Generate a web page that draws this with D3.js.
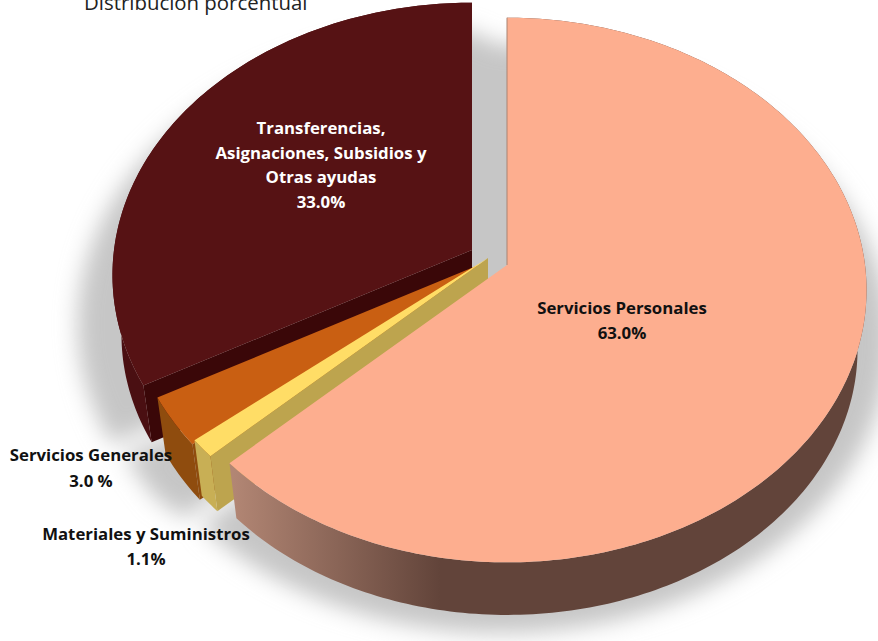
<!DOCTYPE html>
<html>
<head>
<meta charset="utf-8">
<script src="https://cdnjs.cloudflare.com/ajax/libs/d3/7.8.5/d3.min.js"></script>
<style>
  html, body { margin: 0; padding: 0; background: #fff; overflow: hidden; }
  text { font-family: "Open Sans", sans-serif; }
  .lbl { font-size: 16.8px; font-weight: 700; text-anchor: middle; fill: #111; }
  .lbl.white { fill: #fff; }
</style>
</head>
<body>
<script>
// clockwise from 12 o'clock, same order as the original pie
var categories = ["Servicios Personales", "Materiales y Suministros", "Servicios Generales", "Transferencias, Asignaciones, Subsidios y Otras ayudas"]
var shares     = [63.0, 1.1, 3.0, 33.0]
var shareText  = ["63.0%", "1.1%", "3.0 %", "33.0%"]
var title      = "Distribución porcentual"

var width = 878, height = 641

// tilted disc: radii and perspective strength, depth of the extrusion
var rx = 358, ry = 270, persp = 0.092
var depthScale = 0.975, depthDrop = 60
var shadowScale = 1.08, shadowDrop = 47

// where the apex of each slice ended up after exploding
var apexes = [[507, 265], [488, 258], [486, 262], [472, 250]]

var topColor  = ["#fdae8f", "#ffdd66", "#c95f12", "#561214"]
var rimColor  = ["url(#rimBig)", "#c8af55", "#8f4c0e", "#4a0f12"]
var faceColor = ["#a98372", "#bda44e", "#8f4c0e", "#3a0708"]

var svg = d3.select("body").append("svg")
  .attr("width", width)
  .attr("height", height)

var defs = svg.append("defs")
defs.append("filter").attr("id", "blur")
  .attr("x", "-20%").attr("y", "-20%").attr("width", "140%").attr("height", "140%")
  .append("feGaussianBlur").attr("stdDeviation", 11)

var grad = defs.append("linearGradient")
  .attr("id", "rimBig")
  .attr("gradientUnits", "userSpaceOnUse")
  .attr("x1", 233).attr("x2", 440).attr("y1", 0).attr("y2", 0)
grad.append("stop").attr("offset", 0).attr("stop-color", "#b28674")
grad.append("stop").attr("offset", 1).attr("stop-color", "#62443a")

var arcs = d3.pie().sort(null)(shares)

// disc point at angle a (clockwise from top) and radius r, on a plane scaled by s and dropped by drop
function project(i, a, r, s, drop) {
  var u = Math.sin(a) * r, v = -Math.cos(a) * r
  var w = 1 - persp * v
  return [apexes[i][0] + s * rx * u / w, apexes[i][1] + s * ry * v / w + drop]
}

var line = d3.line()

function arcPoints(i, s, drop) {
  var d = arcs[i], n = Math.max(4, Math.ceil((d.endAngle - d.startAngle) * 60))
  return d3.range(n + 1).map(k => project(i, d.startAngle + (d.endAngle - d.startAngle) * k / n, 1, s, drop))
}

function wedge(i, s, drop) {
  return line([project(i, 0, 0, s, drop)].concat(arcPoints(i, s, drop))) + "Z"
}

function rim(i) {
  return line(arcPoints(i, 1, 0).concat(arcPoints(i, depthScale, depthDrop).reverse())) + "Z"
}

// radial cut face at angle a
function cut(i, a) {
  return line([
    project(i, a, 0, 1, 0),
    project(i, a, 1, 1, 0),
    project(i, a, 1, depthScale, depthDrop),
    project(i, a, 0, depthScale, depthDrop)
  ]) + "Z"
}

svg.append("text")
  .attr("x", 84).attr("y", 10)
  .style("font-size", "20.4px")
  .attr("fill", "#222")
  .text(title)

// soft shadow under everything, the gap between the big slices is shaded too
var shadow = svg.append("g")
  .attr("filter", "url(#blur)")
  .attr("transform", "translate(-6,0)")
arcs.forEach((d, i) => {
  shadow.append("path").attr("d", wedge(i, shadowScale, shadowDrop)).attr("fill", "#c6c6c6")
})
shadow.append("path")
  .attr("d", line([
    project(3, 0, 1, shadowScale, shadowDrop),
    project(0, 0, 1, shadowScale, shadowDrop),
    project(0, 0, 0, shadowScale, shadowDrop + 40),
    project(3, 0, 0, shadowScale, shadowDrop + 40)
  ]) + "Z")
  .attr("fill", "#c6c6c6")

// back to front
var order = [3, 2, 1, 0]
order.forEach(i => {
  var g = svg.append("g")
  if (i != 0)
    g.append("path").attr("d", cut(i, arcs[i].startAngle)).attr("fill", faceColor[i])
  g.append("path").attr("d", rim(i)).attr("fill", rimColor[i])
  g.append("path").attr("d", wedge(i, 1, 0)).attr("fill", topColor[i])
})

// thin visible edge on the vertical cut of the big slice
svg.append("path")
  .attr("d", line([project(0, 0, 1, 1, 0), project(0, 0, 0, 1, 0)]))
  .attr("stroke", "#a98372")
  .attr("stroke-width", 1)
  .attr("fill", "none")

function label(lines, x, ys, white) {
  lines.forEach((t, k) => {
    svg.append("text")
      .attr("class", white ? "lbl white" : "lbl")
      .attr("x", x)
      .attr("y", ys[k])
      .text(t)
  })
}

label(["Transferencias,", "Asignaciones, Subsidios y", "Otras ayudas", shareText[3]], 321, [134, 159, 183, 208], true)
label([categories[0], shareText[0]], 622, [314, 339])
label([categories[2], shareText[2]], 91, [461, 487])
label([categories[1], shareText[1]], 146, [540, 565])
</script>
</body>
</html>
